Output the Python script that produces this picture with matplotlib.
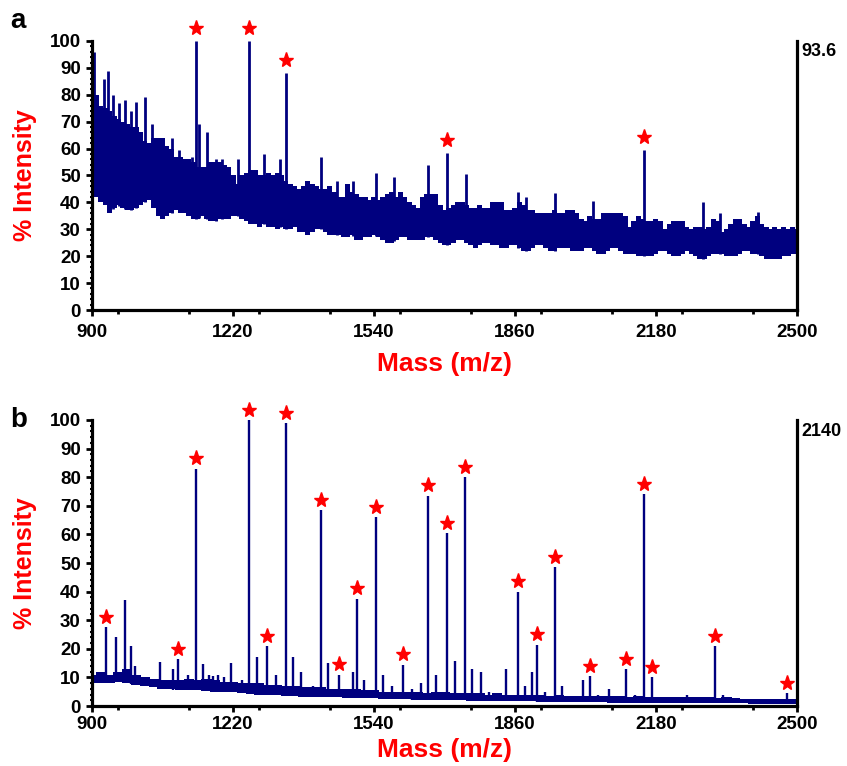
import numpy as np
import matplotlib
matplotlib.use('Agg')
import matplotlib.pyplot as plt
from matplotlib.ticker import MultipleLocator

plt.rcParams['font.family'] = ['Liberation Sans', 'DejaVu Sans']
plt.rcParams['font.weight'] = 'bold'

NAVY = '#00007f'

# panel a: noise band of the spectrum, read every 10 Da
mz_grid_a = np.arange(900, 2501, 10)
a_upper = [85, 80, 76, 75, 74, 72, 71, 70, 69, 68,
           68, 66, 63, 62, 64, 64, 64, 61, 60, 57,
           57, 56, 56, 55, 53, 53, 53, 55, 55, 55,
           54, 53, 50, 47, 50, 51, 52, 52, 50, 50,
           51, 50, 51, 50, 48, 47, 46, 45, 46, 48,
           47, 46, 45, 45, 46, 44, 42, 42, 47, 44,
           43, 42, 42, 41, 42, 41, 42, 43, 44, 42,
           44, 42, 40, 39, 38, 42, 43, 43, 43, 39,
           37, 38, 39, 40, 40, 39, 38, 38, 39, 38,
           38, 40, 40, 40, 37, 37, 38, 40, 39, 37,
           37, 36, 36, 36, 36, 37, 36, 36, 37, 37,
           36, 34, 33, 35, 34, 34, 36, 36, 36, 36,
           36, 35, 31, 33, 35, 34, 33, 33, 34, 33,
           30, 32, 33, 33, 33, 31, 30, 31, 31, 30,
           31, 34, 33, 29, 30, 32, 34, 34, 32, 31,
           33, 35, 32, 31, 30, 31, 30, 31, 30, 31,
           30]
a_lower = [46, 42, 40, 39, 36, 38, 39, 38, 37, 37,
           38, 39, 40, 41, 38, 35, 34, 35, 36, 37,
           36, 36, 35, 34, 34, 35, 34, 33, 33, 34,
           34, 34, 35, 35, 34, 33, 32, 32, 31, 32,
           31, 31, 30, 31, 30, 30, 31, 29, 29, 28,
           29, 30, 30, 29, 28, 28, 28, 27, 27, 28,
           26, 26, 27, 27, 28, 27, 26, 25, 25, 26,
           27, 27, 26, 26, 26, 26, 27, 27, 26, 25,
           24, 24, 25, 26, 26, 25, 24, 23, 24, 25,
           25, 24, 24, 23, 23, 24, 24, 23, 22, 22,
           23, 24, 24, 23, 22, 22, 23, 23, 23, 22,
           22, 22, 23, 23, 22, 21, 21, 22, 23, 23,
           22, 21, 21, 21, 20, 20, 20, 20, 21, 22,
           22, 21, 20, 20, 21, 22, 21, 20, 19, 19,
           20, 21, 21, 21, 20, 20, 20, 21, 22, 22,
           21, 21, 20, 19, 19, 19, 19, 20, 20, 21,
           21]

# panel a: spikes above the noise
a_peak_mz = [905, 927, 936, 947, 962, 975, 988, 1001, 1020, 1037, 1062, 1082, 1097, 1126,
             1135, 1142, 1162, 1182, 1196, 1232, 1257, 1290, 1327, 1340, 1419, 1455, 1493,
             1544, 1586, 1663, 1705, 1748, 1868, 1885, 1951, 2036, 2153, 2286, 2325, 2412]
a_peak_int = [96, 86, 89, 80, 77, 78, 74, 77.5, 79, 69, 64, 64, 59.5, 57,
              100, 69, 66, 56, 56, 56, 100, 58, 56, 88, 57, 48, 48,
              51, 49.5, 54, 58.5, 50.6, 44, 42, 43.6, 40.6, 59.5, 40.3, 36, 36.5]
a_starred = [1135, 1257, 1340, 1705, 2153]

# panel b: baseline band, read every 20 Da
mz_grid_b = np.arange(900, 2501, 20)
b_upper = [11, 12, 11, 12, 13, 11, 10, 9.5, 9, 9,
           9, 9.5, 9, 9.5, 9, 8.5, 8.5, 8, 8, 8,
           7.5, 7.5, 7, 7, 6.5, 6.5, 6.5, 6, 6, 6,
           6, 5.5, 5.5, 5, 5, 5, 5, 5, 4.5, 5,
           5, 4.5, 4.5, 4.5, 4.5, 4, 4.5, 4, 4, 4,
           4, 4, 3.5, 4, 3.5, 3.5, 3.5, 3.5, 3.5, 3.5,
           3.5, 3, 3.5, 3, 3, 3, 3, 3, 3, 3,
           3, 2.8, 3, 2.8, 2.6, 2.6, 2.6, 2.6, 2.5, 2.5,
           2.5]
b_lower = [8, 8, 8, 8.5, 8, 7.5, 7, 6.5, 6, 5.8,
           5.6, 5.5, 5.5, 5.3, 5, 5, 4.8, 4.5, 4.3, 4,
           4, 3.8, 3.6, 3.5, 3.3, 3.2, 3.2, 3, 3, 2.9,
           2.8, 2.7, 2.7, 2.6, 2.5, 2.4, 2.3, 2.2, 2.2, 2.1,
           2.1, 2, 2, 1.9, 1.9, 1.8, 1.8, 1.7, 1.7, 1.6,
           1.6, 1.5, 1.5, 1.5, 1.4, 1.4, 1.3, 1.3, 1.3, 1.2,
           1.2, 1.2, 1.2, 1.1, 1.1, 1.1, 1.0, 1.0, 1.0, 1.0,
           1.0, 1.0, 0.9, 0.9, 0.9, 0.8, 0.8, 0.8, 0.8, 0.7,
           0.7]

b_peak_mz = [932, 954, 974, 988, 998, 1054, 1084, 1095, 1119, 1135, 1153, 1165, 1175, 1185,
             1200, 1215, 1240, 1257, 1274, 1298, 1318, 1340, 1356, 1375, 1402, 1420, 1436,
             1461, 1492, 1502, 1517, 1544, 1560, 1582, 1607, 1626, 1646, 1663, 1681, 1705,
             1724, 1747, 1762, 1782, 1802, 1840, 1868, 1883, 1898, 1909, 1928, 1950, 1966,
             2015, 2031, 2049, 2073, 2113, 2132, 2153, 2170, 2191, 2250, 2276, 2315, 2333,
             2478]
b_peak_int = [27.5, 24, 37, 21, 14, 15.5, 13, 16.5, 11, 83, 14.7, 11, 10.5, 11,
              10, 15, 9, 100, 17, 21, 11, 99, 17, 12, 7, 68.5, 15,
              11, 12, 37.5, 9, 66, 11, 7, 14.5, 6, 8, 73.5, 11, 60.4,
              15.7, 80, 13, 12, 5, 13, 40, 7, 12, 21.5, 5, 48.5, 7,
              9, 10.5, 4, 6, 13, 4, 74, 10, 3, 4, 3, 21, 4,
              4.4]
b_starred = [932, 1095, 1135, 1257, 1298, 1340, 1420, 1461, 1502, 1544, 1607, 1663, 1705,
             1747, 1868, 1909, 1950, 2031, 2113, 2153, 2170, 2315, 2478]

fig = plt.figure(figsize=(8.47, 7.66), dpi=100)
ax_a = fig.add_axes([0.1086, 0.5953, 0.8323, 0.3512])
ax_b = fig.add_axes([0.1086, 0.0783, 0.8323, 0.3734])


def style_axis(ax, corner_label, tickpad, xlabelpad):
    ax.set_xlim(900, 2500)
    ax.set_ylim(0, 100)
    ax.spines['top'].set_visible(False)
    for s in ['left', 'bottom', 'right']:
        ax.spines[s].set_linewidth(2.3)
    ax.set_xticks(np.arange(900, 2501, 320))
    ax.xaxis.set_minor_locator(MultipleLocator(160))
    ax.set_yticks(np.arange(0, 101, 10))
    ax.yaxis.set_minor_locator(MultipleLocator(2))
    ax.tick_params(axis='both', which='major', direction='out', length=4, width=2,
                   labelsize=13.5, pad=4)
    ax.tick_params(axis='y', which='minor', direction='out', length=1.5, width=1.5)
    ax.tick_params(axis='x', which='minor', direction='out', length=3, width=2)
    ax.tick_params(axis='x', pad=tickpad)
    ax.tick_params(right=False, which='both')
    for lab in ax.get_xticklabels() + ax.get_yticklabels():
        lab.set_fontweight('bold')
    ax.set_ylabel('% Intensity', color='red', fontsize=18, fontweight='bold', labelpad=9)
    ax.set_xlabel('Mass (m/z)', color='red', fontsize=19, fontweight='bold',
                  labelpad=xlabelpad)
    ax.text(1.006, 0.96, corner_label, transform=ax.transAxes, ha='left', va='center',
            fontsize=13, fontweight='bold')


def draw_band(ax, mz, lower, upper, step):
    # blocky noise band, one slightly overlapping bar per sample
    lo = np.array(lower)
    hi = np.array(upper)
    ax.bar(mz, hi - lo, bottom=lo, width=step * 1.15, color=NAVY, linewidth=0)


# panel a
draw_band(ax_a, mz_grid_a, a_lower, a_upper, 10)
a_base = np.interp(a_peak_mz, mz_grid_a, a_lower)
ax_a.vlines(a_peak_mz, a_base, a_peak_int, color=NAVY, lw=2.0)
a_top = dict(zip(a_peak_mz, a_peak_int))
ax_a.plot(a_starred, [a_top[m] + 4.8 for m in a_starred], linestyle='none', marker='*',
          color='red', markersize=11, clip_on=False)
style_axis(ax_a, '93.6', 6, 8)

# panel b
draw_band(ax_b, mz_grid_b, b_lower, b_upper, 20)
b_base = np.interp(b_peak_mz, mz_grid_b, b_lower)
ax_b.vlines(b_peak_mz, b_base, b_peak_int, color=NAVY, lw=1.7)
b_top = dict(zip(b_peak_mz, b_peak_int))
ax_b.plot(b_starred, [b_top[m] + 3.6 for m in b_starred], linestyle='none', marker='*',
          color='red', markersize=11, clip_on=False)
style_axis(ax_b, '2140', 3.5, 3)

fig.text(0.012, 0.972, 'a', fontsize=20, fontweight='bold', va='center')
fig.text(0.012, 0.452, 'b', fontsize=20, fontweight='bold', va='center')

fig.savefig('out.png', dpi=100)
